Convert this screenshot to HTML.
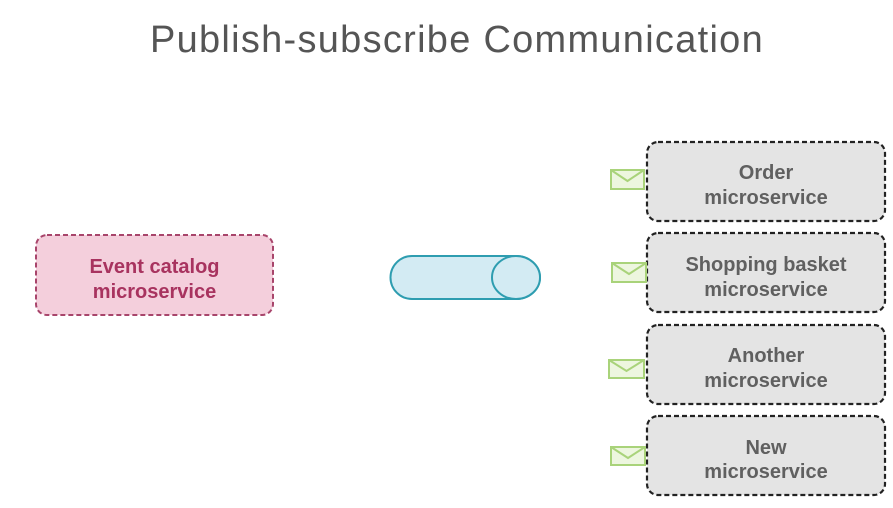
<!DOCTYPE html>
<html><head><style>
body{margin:0;width:893px;height:503px;background:#fff;overflow:hidden;font-family:"Liberation Sans",sans-serif}
</style></head><body>
<svg width="893" height="503" xmlns="http://www.w3.org/2000/svg" font-family="Liberation Sans, sans-serif">
<text x="457" y="52" text-anchor="middle" font-size="38" fill="#555" letter-spacing="1.3" textLength="614" lengthAdjust="spacingAndGlyphs">Publish-subscribe Communication</text>
<rect x="36" y="235" width="237" height="80" rx="11" fill="#f4cfdc" stroke="#a8456b" stroke-width="2" stroke-dasharray="5,3"/>
<text x="154.5" y="273" text-anchor="middle" font-size="20" font-weight="bold" fill="#a8335f">Event catalog</text>
<text x="154.5" y="298" text-anchor="middle" font-size="20" font-weight="bold" fill="#a8335f">microservice</text>
<path d="M412,256 H516 A24,21.5 0 0 1 516,299 H412 A21.5,21.5 0 0 1 412,256 Z" fill="#d3ebf3" stroke="#2e9db0" stroke-width="2"/>
<ellipse cx="516" cy="277.5" rx="24" ry="21.5" fill="#d3ebf3" stroke="#2e9db0" stroke-width="2"/>
<g font-size="20" font-weight="bold" fill="#606060" text-anchor="middle">
<rect x="647" y="142" width="238" height="79" rx="11" fill="#e4e4e4" stroke="#222" stroke-width="2.2" stroke-dasharray="5,3"/>
<text x="766" y="179">Order</text><text x="766" y="204">microservice</text>
<rect x="647" y="233" width="238" height="79" rx="11" fill="#e4e4e4" stroke="#222" stroke-width="2.2" stroke-dasharray="5,3"/>
<text x="766" y="271">Shopping basket</text><text x="766" y="296">microservice</text>
<rect x="647" y="325" width="238" height="79" rx="11" fill="#e4e4e4" stroke="#222" stroke-width="2.2" stroke-dasharray="5,3"/>
<text x="766" y="362">Another</text><text x="766" y="387">microservice</text>
<rect x="647" y="416" width="238" height="79" rx="11" fill="#e4e4e4" stroke="#222" stroke-width="2.2" stroke-dasharray="5,3"/>
<text x="766" y="454">New</text><text x="766" y="478">microservice</text>
</g>
<g fill="#edf6df" stroke="#a9d37a" stroke-width="2">
<rect x="611" y="170" width="33" height="19"/><path d="M611,170 L627.5,181 L644,170" fill="none"/>
<rect x="612" y="263" width="34" height="19"/><path d="M612,263 L629,274 L646,263" fill="none"/>
<rect x="609" y="360" width="35" height="18"/><path d="M609,360 L626.5,371 L644,360" fill="none"/>
<rect x="611" y="447" width="34" height="18"/><path d="M611,447 L628,458 L645,447" fill="none"/>
</g>
</svg>
</body></html>
